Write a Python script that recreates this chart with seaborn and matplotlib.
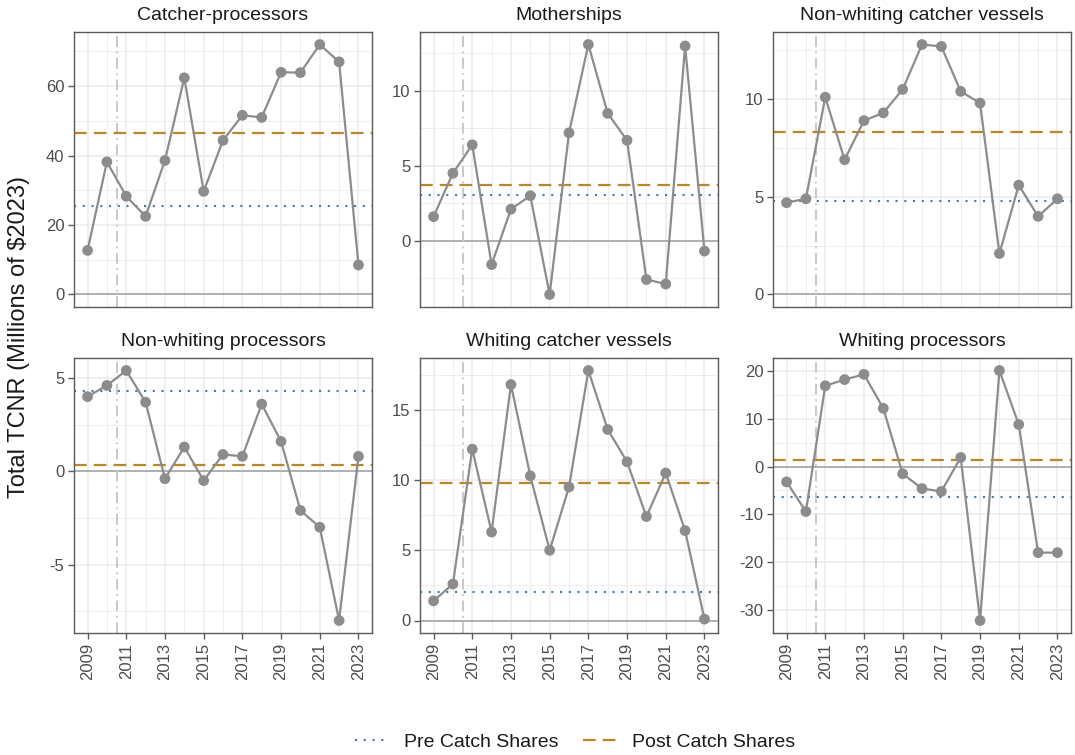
import numpy as np
import pandas as pd
import matplotlib
matplotlib.use("Agg")
import matplotlib.pyplot as plt
from matplotlib.ticker import MultipleLocator, FuncFormatter
from matplotlib.lines import Line2D
import seaborn as sns

# ---- data: total TCNR by sector, millions of 2023 dollars ----
years = list(range(2009, 2024))
sectors = [
    "Catcher-processors",
    "Motherships",
    "Non-whiting catcher vessels",
    "Non-whiting processors",
    "Whiting catcher vessels",
    "Whiting processors",
]
catcher_processors = [12.7, 38.2, 28.3, 22.5, 38.6, 62.4, 29.7, 44.4, 51.6, 51.0, 64.0, 63.9, 72.0, 67.0, 8.5]
motherships = [1.6, 4.5, 6.4, -1.6, 2.1, 3.0, -3.6, 7.2, 13.1, 8.5, 6.7, -2.6, -2.9, 13.0, -0.7]
nonwhiting_catchers = [4.7, 4.9, 10.1, 6.9, 8.9, 9.3, 10.5, 12.8, 12.7, 10.4, 9.8, 2.1, 5.6, 4.0, 4.9]
nonwhiting_processors = [4.0, 4.6, 5.4, 3.7, -0.4, 1.3, -0.5, 0.9, 0.8, 3.6, 1.6, -2.1, -3.0, -8.0, 0.8]
whiting_catchers = [1.4, 2.6, 12.2, 6.3, 16.8, 10.3, 5.0, 9.5, 17.8, 13.6, 11.3, 7.4, 10.5, 6.4, 0.1]
whiting_processors = [-3.2, -9.4, 16.9, 18.2, 19.3, 12.2, -1.5, -4.6, -5.2, 1.9, -32.2, 20.1, 8.8, -18.0, -18.0]
series = [catcher_processors, motherships, nonwhiting_catchers,
          nonwhiting_processors, whiting_catchers, whiting_processors]
catch_share_start = 2011
x_tick_labels = [str(y) for y in range(2009, 2024, 2)]

df = pd.concat(
    [pd.DataFrame({"year": years, "value": v, "sector": s}) for s, v in zip(sectors, series)],
    ignore_index=True,
)

# ---- styling ----
sns.set_theme(style="white")
plt.rcParams["font.family"] = ["Liberation Sans", "DejaVu Sans"]

line_col = "#8c8c8c"
pre_col = "#3d7ea6"
post_col = "#b8862b"
grid_col = "#ebebeb"
border_col = "#5a5a5a"
tick_text = "#4d4d4d"
pre_ls = (0, (1, 3.2))
post_ls = (0, (5.7, 3.2))
y_steps = [20, 5, 5, 5, 5, 10]

W, H = 1075, 755
fig = plt.figure(figsize=(W / 100, H / 100), dpi=100)

lefts = [74, 420, 773]
tops = [32, 358]
pw, ph = 298, 275

for i, sector in enumerate(sectors):
    r, c = divmod(i, 3)
    ax = fig.add_axes([lefts[c] / W, 1 - (tops[r] + ph) / H, pw / W, ph / H])
    sub = df[df["sector"] == sector]

    # y range from data (including zero) with 5% padding
    lo = min(sub["value"].min(), 0)
    hi = max(sub["value"].max(), 0)
    pad = 0.05 * (hi - lo)
    ax.set_ylim(lo - pad, hi + pad)
    ax.set_xlim(2009 - 0.7, 2023 + 0.7)

    step = y_steps[i]
    ax.yaxis.set_major_locator(MultipleLocator(step))
    ax.yaxis.set_minor_locator(MultipleLocator(step / 2))
    ax.xaxis.set_minor_locator(MultipleLocator(1))
    ax.set_xticks(range(2009, 2024, 2))
    ax.grid(True, which="major", color=grid_col, lw=1.1, zorder=0)
    ax.grid(True, which="minor", color=grid_col, lw=0.6, zorder=0)
    ax.set_axisbelow(True)

    pre = sub[sub["year"] < catch_share_start]["value"].mean()
    post = sub[sub["year"] >= catch_share_start]["value"].mean()

    ax.axhline(0, color="#ababab", lw=1.3, zorder=1)
    ax.axvline(catch_share_start - 0.5, color="#c4c4c4", lw=1.3, ls=(0, (6, 2.5, 1, 2.5)), zorder=1)
    ax.axhline(pre, color=pre_col, lw=1.5, ls=pre_ls, zorder=2)
    ax.axhline(post, color=post_col, lw=1.6, ls=post_ls, zorder=2)

    sns.lineplot(data=sub, x="year", y="value", ax=ax, color=line_col, lw=1.6, zorder=3)
    sns.scatterplot(data=sub, x="year", y="value", ax=ax, color=line_col, s=60,
                    edgecolor="none", zorder=4)

    ax.set_xlabel("")
    ax.set_ylabel("")
    ax.set_title(sector, fontsize=14, color="#1a1a1a", pad=9)
    for sp in ax.spines.values():
        sp.set_visible(True)
        sp.set_color(border_col)
        sp.set_linewidth(1.0)
    ax.tick_params(axis="both", which="major", length=4, width=1, color=border_col,
                   labelsize=12, labelcolor=tick_text, direction="out", left=True, bottom=True,
                   pad=3)
    ax.tick_params(axis="both", which="minor", length=0)
    ax.yaxis.set_major_formatter(FuncFormatter(lambda v, p: f"{v:g}"))
    if r == 1:
        ax.set_xticklabels(x_tick_labels, rotation=90)
    else:
        ax.tick_params(axis="x", which="major", length=0, labelbottom=False)

fig.text(19 / W, 1 - 337 / H, "Total TCNR (Millions of $2023)", rotation=90,
         ha="center", va="center", fontsize=17, color="#1a1a1a")

handles = [
    Line2D([], [], color=pre_col, lw=1.5, ls=pre_ls),
    Line2D([], [], color=post_col, lw=1.6, ls=post_ls),
]
fig.legend(handles, ["Pre Catch Shares", "Post Catch Shares"], loc="center",
           bbox_to_anchor=(575 / W, 1 - 742 / H), ncol=2, frameon=False,
           fontsize=14, handlelength=1.7, columnspacing=1.3, handletextpad=0.8,
           labelcolor="#1a1a1a")

fig.savefig("out.png", dpi=100)
